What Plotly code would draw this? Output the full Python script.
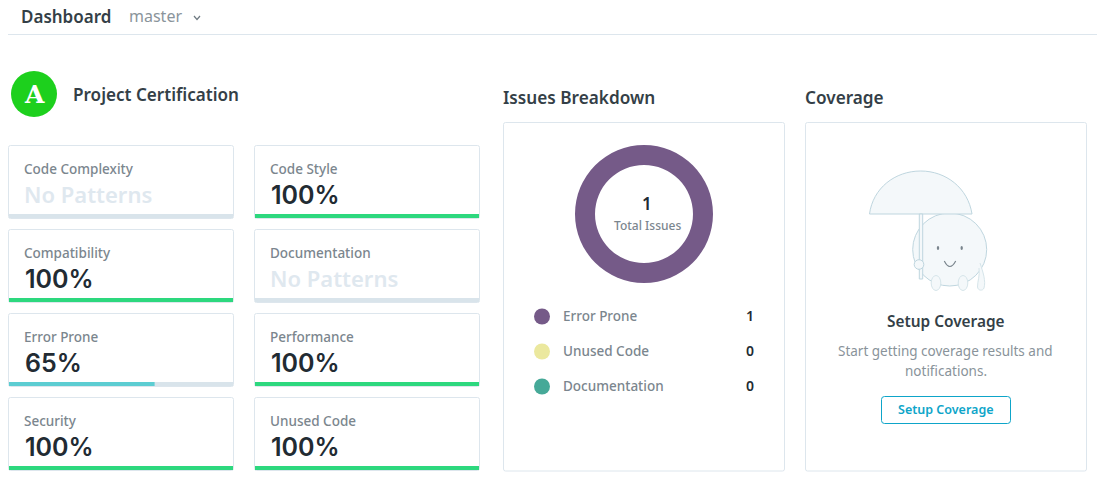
#!/usr/bin/env python
import plotly.graph_objects as go

WIDTH = 1097
HEIGHT = 488

card_names = ['Code Complexity', 'Code Style', 'Compatibility', 'Documentation',
              'Error Prone', 'Performance', 'Security', 'Unused Code']
card_scores = [None, 100, 100, None, 65, 100, 100, 100]

issue_names = ['Error Prone', 'Unused Code', 'Documentation']
issue_counts = [1, 0, 0]
issue_colors = ['#755a88', '#ebe89e', '#46a998']
total_issues = 1

FONT = 'Noto Sans'
DARK = '#343f47'
NUMBER = '#222b33'
GREY = '#7b868e'
LINE = '#dde6ed'
TRACK = '#d9e4eb'
GOOD = '#2dd87e'
MID = '#5ccdd2'
EMPTY = '#dfe8ef'
BLUE = '#0ea5c9'
ILLO_FILL = '#f4f8fa'
ILLO_LINE = '#bfd6df'

shapes = []
annotations = []


def text(x, y, s, size, color, weight=400, anchor='left', family=FONT):
    # glyphs land a bit low and right of the requested spot
    annotations.append(dict(x=x - (2 if anchor == 'left' else 1), y=y - 2, xref='x', yref='y',
                            text=s, showarrow=False, xanchor=anchor, yanchor='middle', borderpad=0,
                            font=dict(family=family, size=size, color=color, weight=weight)))


def box(x0, y0, x1, y1, line=LINE, fill='white', width=1, r=2):
    path = (f'M {x0 + r} {y0} L {x1 - r} {y0} Q {x1} {y0} {x1} {y0 + r} '
            f'L {x1} {y1 - r} Q {x1} {y1} {x1 - r} {y1} L {x0 + r} {y1} '
            f'Q {x0} {y1} {x0} {y1 - r} L {x0} {y0 + r} Q {x0} {y0} {x0 + r} {y0} Z')
    shapes.append(dict(type='path', path=path, xref='x', yref='y', layer='below',
                       fillcolor=fill, line=dict(color=line, width=width)))


def ellipse(cx, cy, rx, ry, fill, line=None, width=1):
    shapes.append(dict(type='circle', xref='x', yref='y', layer='above',
                       x0=cx - rx, x1=cx + rx, y0=cy - ry, y1=cy + ry, fillcolor=fill,
                       line=dict(color=line or fill, width=width if line else 0)))


def curve(path, fill=None, line=ILLO_LINE, width=1):
    shapes.append(dict(type='path', path=path, xref='x', yref='y', layer='above',
                       fillcolor=fill or 'rgba(0,0,0,0)', line=dict(color=line, width=width)))


traces = []
# dummy trace so the pixel axes exist
traces.append(go.Scatter(x=[0], y=[0], mode='markers', marker=dict(opacity=0), hoverinfo='skip',
                         showlegend=False, xaxis='x', yaxis='y'))

layout_axes = dict(
    xaxis=dict(range=[0, WIDTH], domain=[0, 1], visible=False, fixedrange=True),
    yaxis=dict(range=[HEIGHT, 0], domain=[0, 1], visible=False, fixedrange=True),
)

# header
text(22, 18, 'Dashboard', 17, DARK, 600)
text(130, 18, 'master', 16, '#8a949b')
curve('M 194 16 L 197 19.5 L 200 16', line='#6f7a82', width=1.2)
shapes.append(dict(type='line', xref='x', yref='y', x0=8, x1=1097, y0=34.5, y1=34.5,
                   layer='below', line=dict(color=LINE, width=1)))

# certification badge
ellipse(34, 94, 23, 23, '#1dd01d')
text(35, 96, 'A', 25, 'white', 700, 'center', 'DejaVu Serif')
text(74, 96, 'Project Certification', 17.1, DARK, 600)

# score cards, two columns by four rows
for i, (name, score) in enumerate(zip(card_names, card_scores)):
    col = i % 2
    row = i // 2
    left = 9 if col == 0 else 255
    top = 145.5 + row * 84
    box(left - 0.5, top, left + 224.5, top + 73)
    text(left + 16, top + 25, name, 13.5, GREY, 500)
    if score is None:
        text(left + 16, top + 50, 'No Patterns', 22, EMPTY, 600)
    else:
        text(left + 17, top + 51.5, f'{score}%', 25, NUMBER, 600, family='Inter')
    # progress bar gets its own little axes
    n = i + 2
    bar_top = top + 68.5
    bar_bottom = bar_top + 4
    layout_axes[f'xaxis{n}'] = dict(range=[0, 100], domain=[left / WIDTH, (left + 224) / WIDTH],
                                    visible=False, fixedrange=True, anchor=f'y{n}')
    layout_axes[f'yaxis{n}'] = dict(range=[0, 1], visible=False, fixedrange=True, anchor=f'x{n}',
                                    domain=[1 - bar_bottom / HEIGHT, 1 - bar_top / HEIGHT])
    color = GOOD if score == 100 else MID
    traces.append(go.Bar(x=[100], y=[0.5], width=1, orientation='h', marker=dict(color=TRACK, line=dict(width=0)),
                         xaxis=f'x{n}', yaxis=f'y{n}', showlegend=False, hoverinfo='skip'))
    traces.append(go.Bar(x=[score or 0], y=[0.5], width=1, orientation='h', marker=dict(color=color, line=dict(width=0)),
                         xaxis=f'x{n}', yaxis=f'y{n}', showlegend=False, name=name))

# issues panel
text(504, 99, 'Issues Breakdown', 17.2, DARK, 600)
box(503.5, 122.5, 784.5, 471)
traces.append(go.Pie(labels=issue_names, values=issue_counts, hole=0.71, sort=False,
                     marker=dict(colors=issue_colors, line=dict(width=0)),
                     textinfo='none', showlegend=False, direction='clockwise',
                     domain=dict(x=[575 / WIDTH, 713 / WIDTH],
                                 y=[1 - 283 / HEIGHT, 1 - 145 / HEIGHT])))
text(648, 205, str(total_issues), 17, NUMBER, 600, 'center')
text(648, 227, 'Total Issues', 12, GREY, 500, 'center')
for i, (name, count, color) in enumerate(zip(issue_names, issue_counts, issue_colors)):
    y = 316.5 + i * 35
    ellipse(542, y, 8, 8, color)
    text(564, y + 1, name, 13.5, GREY, 500)
    text(750.5, y + 1, str(count), 14, NUMBER, 600, 'center')

# coverage panel
text(806, 99, 'Coverage', 17.2, DARK, 600)
box(805.5, 122.5, 1086.5, 471)

# umbrella character
ellipse(949.7, 249.5, 37, 36.5, ILLO_FILL, ILLO_LINE)
curve('M 980 263 C 983 272 986 281 984 288 C 983 291 978 291 977.5 287 C 977.5 281 980 276 979 268',
      fill=ILLO_FILL, line='#d6e5ea')
curve('M 869.5 214 C 873 188 895 171 920.7 171 C 946 171 968 188 972 214 Z', fill=ILLO_FILL)
curve('M 919.3 214 L 922.7 214 L 922.7 279 L 919.3 279 Z', fill=ILLO_FILL)
ellipse(919, 264.5, 4.8, 4.8, ILLO_FILL, ILLO_LINE)
ellipse(936, 283, 4.8, 7.5, ILLO_FILL, '#d6e5ea')
ellipse(963, 283, 4.8, 7.5, ILLO_FILL, '#d6e5ea')
ellipse(938, 248, 1.2, 2, '#7a858d')
ellipse(961.7, 248, 1.2, 2, '#7a858d')
curve('M 944.3 261 Q 949.8 272 955.7 261', line='#7a858d', width=1.2)

text(946.5, 323, 'Setup Coverage', 15.4, DARK, 600, 'center')
text(946.5, 353, 'Start getting coverage results and', 13.5, '#89939a', 400, 'center')
text(946.5, 373, 'notifications.', 13.5, '#89939a', 400, 'center')
box(881.5, 396.5, 1010.5, 423.5, line=BLUE, fill='white', r=3)
text(947, 411.5, 'Setup Coverage', 12.5, BLUE, 600, 'center')

fig = go.Figure(data=traces)
fig.update_layout(width=WIDTH, height=HEIGHT, margin=dict(l=0, r=0, t=0, b=0), autosize=False,
                  paper_bgcolor='white', plot_bgcolor='rgba(0,0,0,0)', barmode='overlay',
                  showlegend=False, shapes=shapes, annotations=annotations, **layout_axes)
fig.write_html('out.html', config=dict(displayModeBar=False),
               post_script="document.body.style.margin='0';document.body.style.overflow='hidden';")
